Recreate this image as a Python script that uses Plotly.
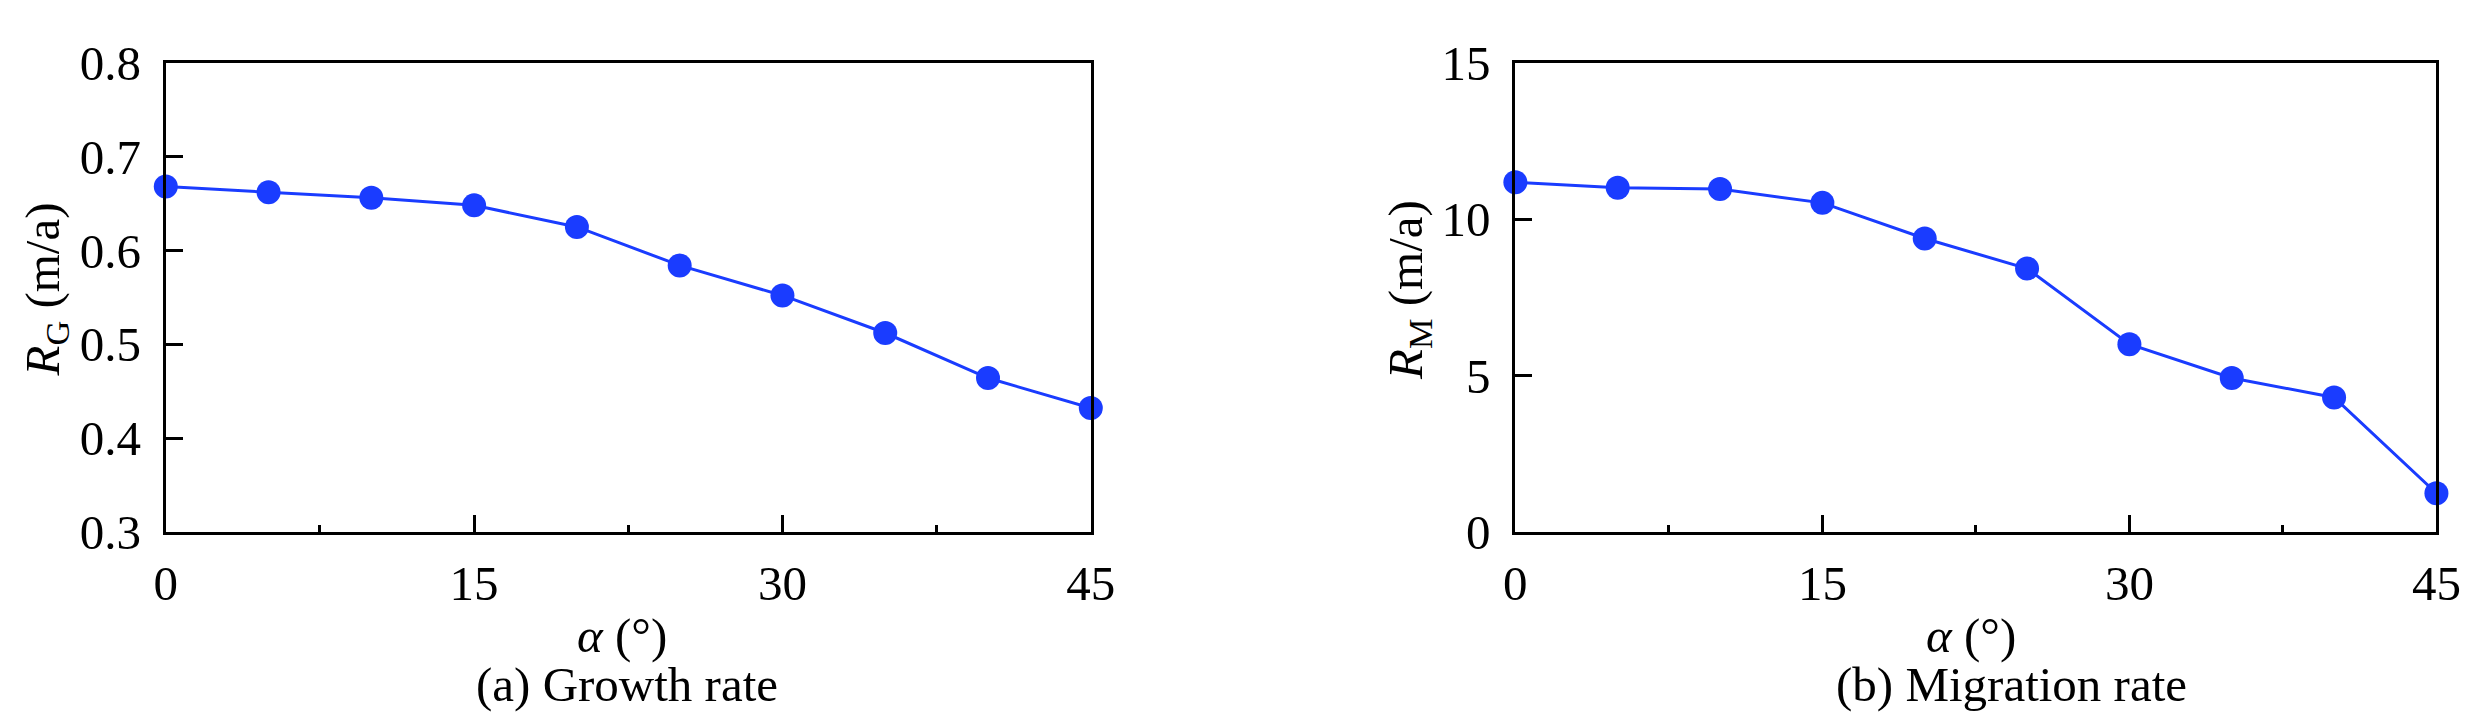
import plotly.graph_objects as go

alpha = [0, 5, 10, 15, 20, 25, 30, 35, 40, 45]
RG = [0.668, 0.662, 0.656, 0.648, 0.625, 0.584, 0.552, 0.512, 0.464, 0.432]
RM = [11.18, 11.0, 10.96, 10.52, 9.38, 8.42, 6.0, 4.92, 4.3, 1.24]
x_ticks = [0, 15, 30, 45]
yG_ticks = [0.3, 0.4, 0.5, 0.6, 0.7, 0.8]
yM_ticks = [0, 5, 10, 15]

W, H = 2481, 721
FONT = "Liberation Serif, Times New Roman, serif"
FS = 49
BLUE = "#1a3cff"

def px(x):
    return x / W

def py(y):
    return 1 - y / H

fig = go.Figure()
fig.add_trace(go.Scatter(x=alpha, y=RG, mode="lines+markers", xaxis="x", yaxis="y",
                         line=dict(color=BLUE, width=3), marker=dict(color=BLUE, size=24),
                         cliponaxis=False, showlegend=False))
fig.add_trace(go.Scatter(x=alpha, y=RM, mode="lines+markers", xaxis="x2", yaxis="y2",
                         line=dict(color=BLUE, width=3), marker=dict(color=BLUE, size=24),
                         cliponaxis=False, showlegend=False))

def xax(domain, anchor):
    return dict(domain=domain, anchor=anchor, range=[0, 45], tickvals=x_ticks,
                ticks="inside", ticklen=17, tickwidth=3, tickcolor="black",
                minor=dict(ticks="inside", ticklen=7, tickwidth=3, tickcolor="black",
                           tick0=0, dtick=7.5, showgrid=False),
                showline=True, linewidth=3, linecolor="black", mirror=True,
                showgrid=False, zeroline=False, ticklabelstandoff=6,
                tickfont=dict(family=FONT, size=FS, color="black"))

def yax(domain, anchor, rng, tv):
    return dict(domain=domain, anchor=anchor, range=rng, tickvals=tv,
                ticks="inside", ticklen=17, tickwidth=3, tickcolor="black",
                showline=True, linewidth=3, linecolor="black", mirror=True,
                showgrid=False, zeroline=False, ticklabelstandoff=12,
                tickfont=dict(family=FONT, size=FS, color="black"))

ydom = [py(538), py(30)]
fig.update_layout(
    width=W, height=H, margin=dict(l=0, r=0, t=0, b=0),
    paper_bgcolor="white", plot_bgcolor="white",
    xaxis=xax([px(148), px(1087)], "y"),
    yaxis=yax(ydom, "x", [0.3, 0.8], yG_ticks),
    xaxis2=xax([px(1518), px(2453)], "y2"),
    yaxis2=yax(ydom, "x2", [0, 15], yM_ticks),
)

def ann(text, x, y, angle=0):
    fig.add_annotation(text=text, x=px(x), y=py(y), xref="paper", yref="paper",
                       xanchor="center", yanchor="middle", showarrow=False,
                       textangle=angle, font=dict(family=FONT, size=FS, color="black"))

ann("<i>α</i> (°)", 611, 650)
ann("<i>α</i> (°)", 1981, 650)
ann("(a) Growth rate", 616, 703)
ann("(b) Migration rate", 2022, 703)
ann("<i>R</i><sub>G</sub> (m/a)", 26, 276, -90)
ann("<i>R</i><sub>M</sub> (m/a)", 1410, 276, -90)

fig.write_html("out.html")
